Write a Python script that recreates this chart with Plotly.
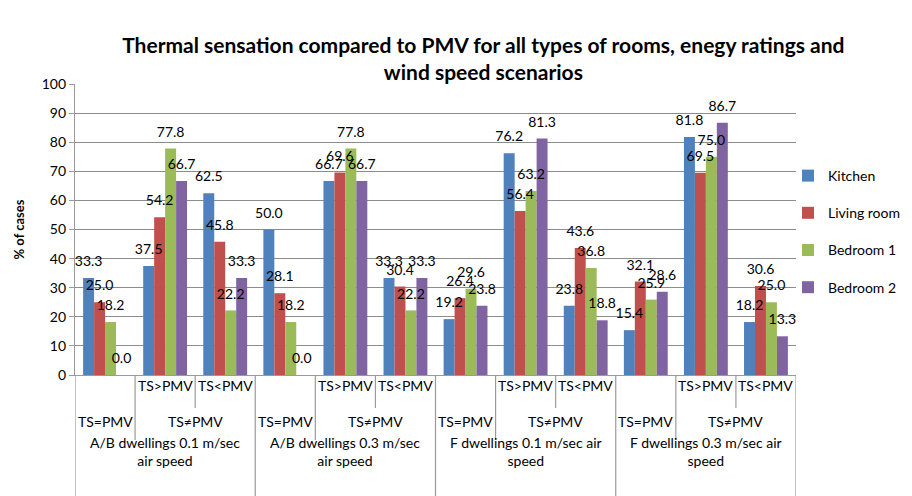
import plotly.graph_objects as go

series_names = ["Kitchen", "Living room", "Bedroom 1", "Bedroom 2"]
series_colors = ["#4F81BD", "#C0504D", "#9BBB59", "#8064A2"]

kitchen = [33.3, 37.5, 62.5, 50.0, 66.7, 33.3, 19.2, 76.2, 23.8, 15.4, 81.8, 18.2]
living_room = [25.0, 54.2, 45.8, 28.1, 69.6, 30.4, 26.4, 56.4, 43.6, 32.1, 69.5, 30.6]
bedroom1 = [18.2, 77.8, 22.2, 18.2, 77.8, 22.2, 29.6, 63.2, 36.8, 25.9, 75.0, 25.0]
bedroom2 = [0.0, 66.7, 33.3, 0.0, 66.7, 33.3, 23.8, 81.3, 18.8, 28.6, 86.7, 13.3]

level1 = ["", "TS>PMV", "TS<PMV"]
level2 = ["TS=PMV", "TS≠PMV"]
scenarios = ["A/B dwellings 0.1 m/sec<br>air speed",
             "A/B dwellings 0.3 m/sec<br>air speed",
             "F dwellings 0.1 m/sec air<br>speed",
             "F dwellings 0.3 m/sec air<br>speed"]

FONT = "Lato"
n = len(kitchen)
xs = list(range(n))
all_series = [kitchen, living_room, bedroom1, bedroom2]

fig = go.Figure()
# coloured bars
for name, color, vals in zip(series_names, series_colors, all_series):
    fig.add_trace(go.Bar(
        x=xs, y=vals, name=name, marker_color=color, marker_line_width=0,
        legendgroup=name, hoverinfo="skip",
    ))
# transparent overlay bars carrying the data labels (drawn above all bars)
for name, vals in zip(series_names, all_series):
    fig.add_trace(go.Bar(
        x=xs, y=vals, name=name, xaxis="x2", yaxis="y2",
        marker_color="rgba(0,0,0,0)", marker_line_width=0,
        text=[f"{v:.1f}" for v in vals], textposition="outside",
        constraintext="none", cliponaxis=False,
        textfont=dict(family=FONT, size=14, color="#000"),
        showlegend=False,
    ))

top_px, bottom_px = 84, 375
h = bottom_px - top_px
def py(p):
    return (bottom_px - p) / h

shapes = []
line_col = "#9a9a9a"
for b in range(n + 1):
    xb = b - 0.5
    if b % 3 == 0:
        yb = py(500)
    elif b % 3 == 1:
        yb = py(440)
    else:
        yb = py(408)
    shapes.append(dict(type="line", xref="x", yref="paper", x0=xb, x1=xb,
                       y0=0, y1=yb, line=dict(color=line_col, width=1.2)))

afont = dict(family=FONT, size=14, color="#000")
annotations = []
for g in range(4):
    base = g * 3
    for k in (1, 2):
        annotations.append(dict(x=base + k, y=py(396), xref="x", yref="paper",
                                text=level1[k], showarrow=False, font=afont))
    annotations.append(dict(x=base, y=py(432), xref="x", yref="paper",
                            text=level2[0], showarrow=False, font=afont))
    annotations.append(dict(x=base + 1.5, y=py(432), xref="x", yref="paper",
                            text=level2[1], showarrow=False, font=afont))
    annotations.append(dict(x=base + 1, y=py(471), xref="x", yref="paper",
                            text=scenarios[g], showarrow=False, font=afont))

fig.update_layout(
    width=912, height=496,
    margin=dict(l=75, r=116, t=84, b=121, autoexpand=False),
    paper_bgcolor="white", plot_bgcolor="white",
    barmode="group", bargap=0.27, bargroupgap=0,
    title=dict(text="<b>Thermal sensation compared to PMV for all types of rooms, enegy ratings and<br>wind speed scenarios</b>",
               x=0.53, xanchor="center", y=1 - 53 / 496, yanchor="middle",
               font=dict(family=FONT, size=21, color="#000")),
    font=dict(family=FONT, size=14, color="#000"),
    xaxis=dict(range=[-0.5, n - 0.5], showticklabels=False, ticks="",
               showgrid=False, showline=True, linecolor=line_col, linewidth=1.2,
               zeroline=False),
    xaxis2=dict(range=[-0.5, n - 0.5], overlaying="x", visible=False,
                showgrid=False, zeroline=False),
    yaxis=dict(range=[0, 100], dtick=10, showgrid=True, gridcolor="#8c8c8c",
               gridwidth=1.2, showline=True, linecolor=line_col, linewidth=1.2,
               ticks="outside", ticklen=5, tickcolor=line_col,
               zeroline=False,
               tickfont=dict(family=FONT, size=14, color="#000"),
               title=dict(text="<b>% of cases</b>", standoff=14,
                          font=dict(family=FONT, size=13, color="#000"))),
    # label layer: slightly shifted range so labels sit a little higher above bars
    yaxis2=dict(range=[-2, 98], overlaying="y", visible=False,
                showgrid=False, zeroline=False),
    legend=dict(xref="container", yref="container", x=788 / 912, xanchor="left",
                y=1 - 160 / 496, yanchor="top",
                traceorder="grouped", tracegroupgap=16,
                font=dict(family=FONT, size=14, color="#000"),
                itemwidth=30, bgcolor="rgba(0,0,0,0)"),
    shapes=shapes, annotations=annotations,
    showlegend=True,
)

fig.write_html("out.html", config={"displayModeBar": False},
               post_script="document.body.style.margin='0';document.body.style.overflow='hidden';")
